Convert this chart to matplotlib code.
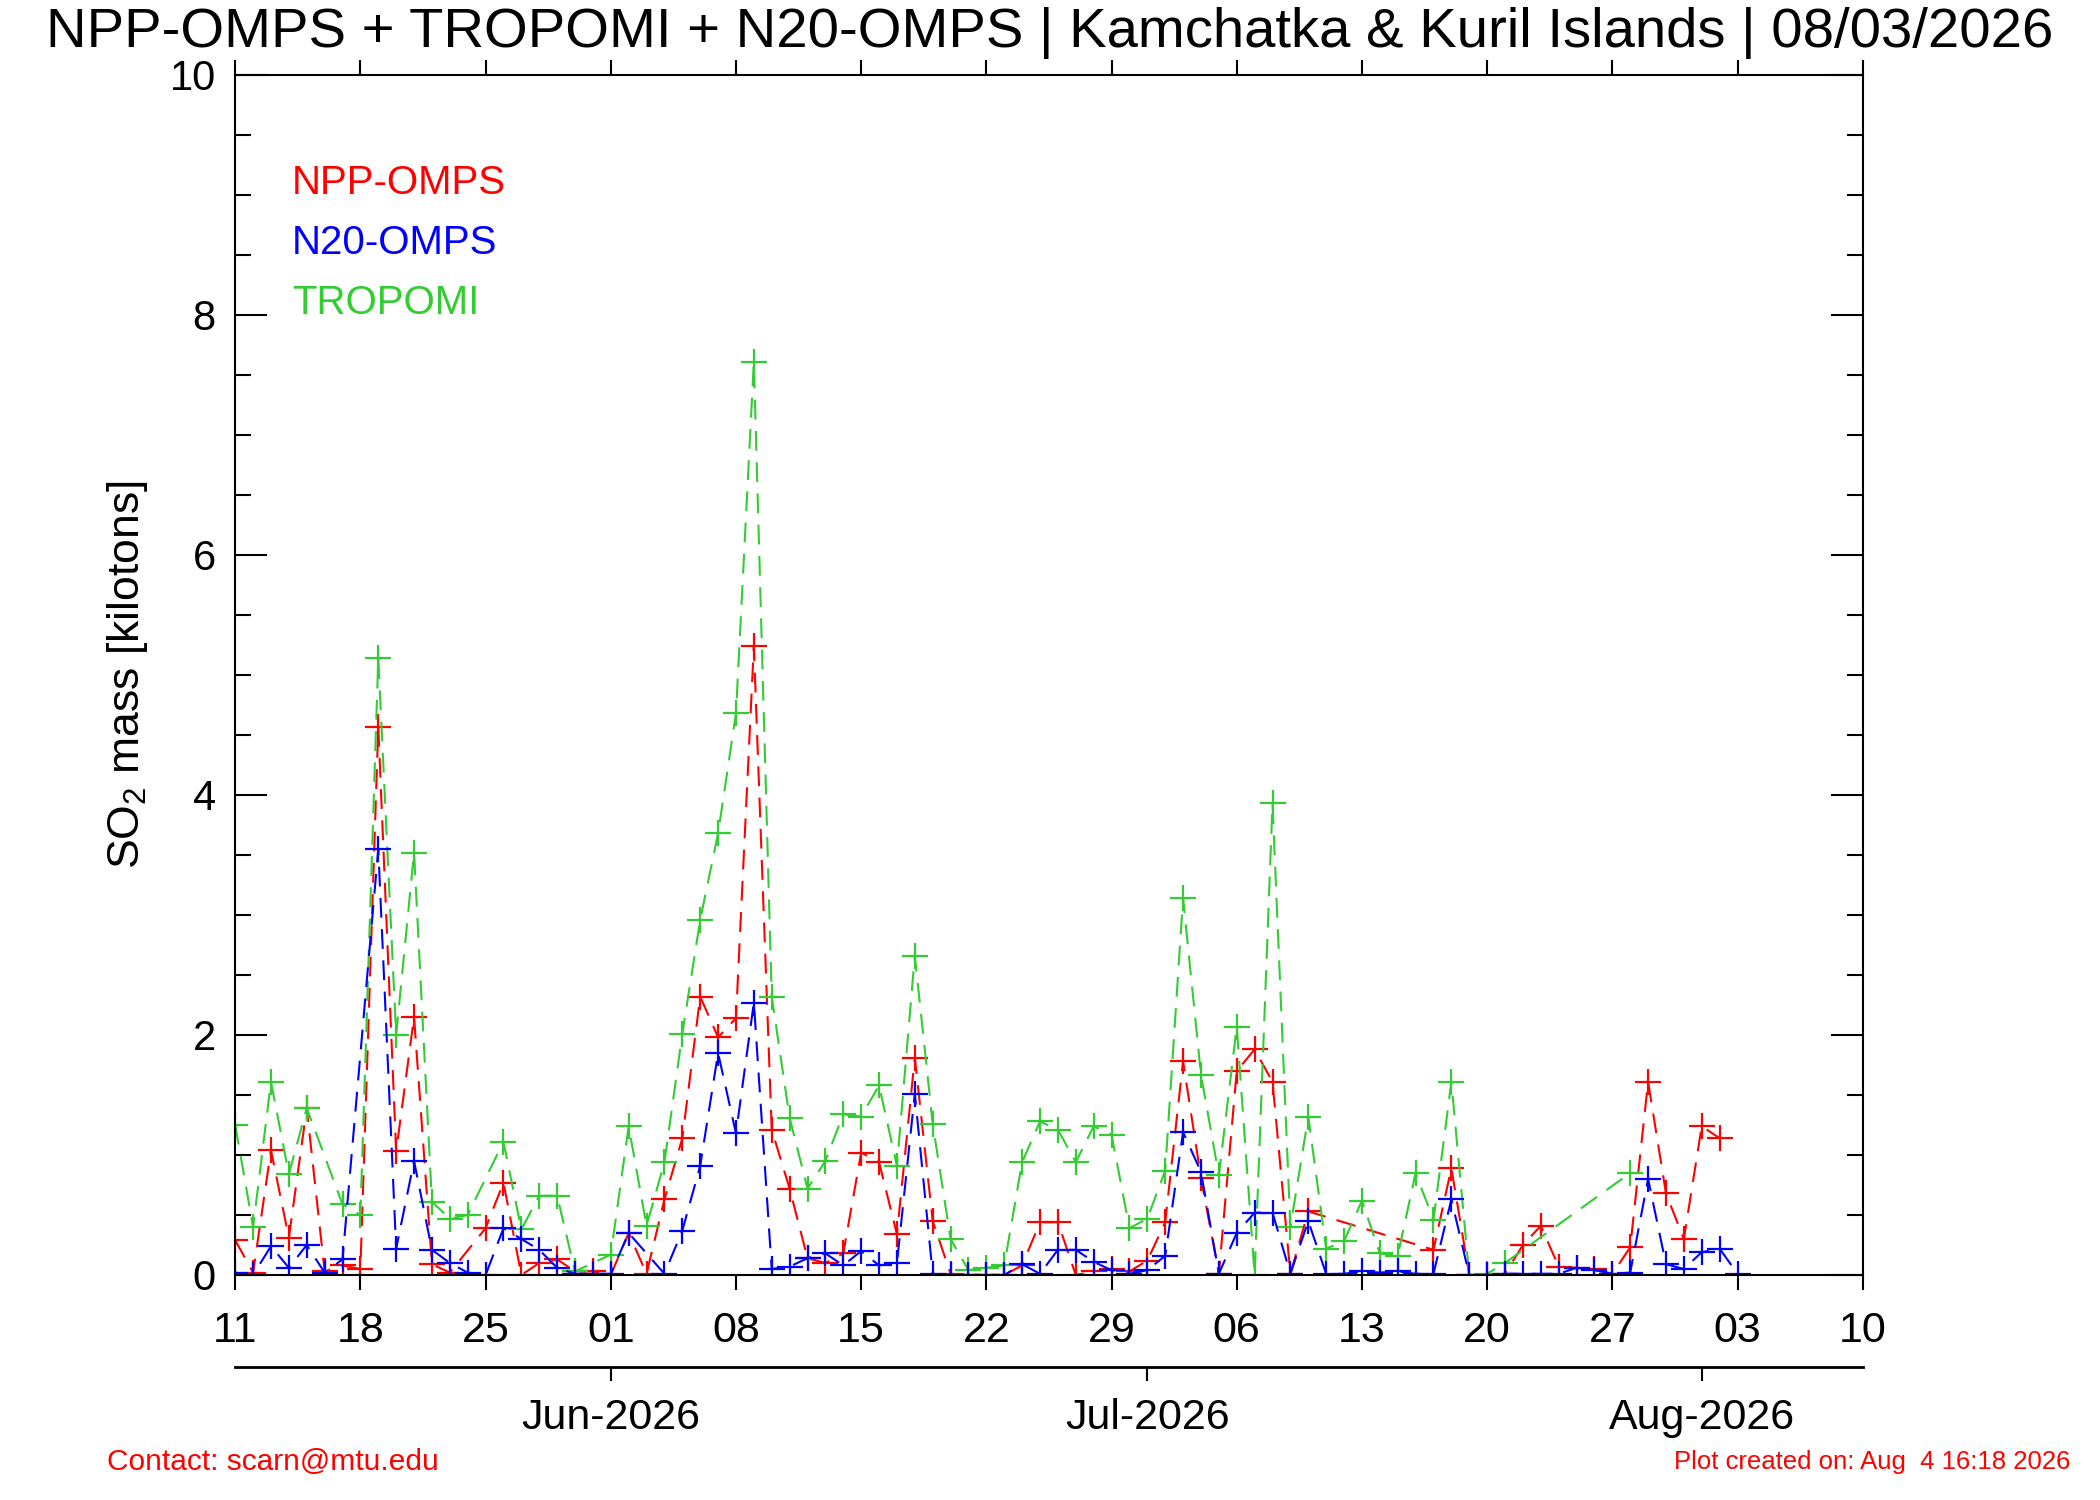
import numpy as np
import matplotlib
matplotlib.use("Agg")
import matplotlib.pyplot as plt
import matplotlib.dates as mdates
from matplotlib.ticker import MultipleLocator

plt.rcParams['font.family'] = ['Liberation Sans', 'DejaVu Sans']
plt.rcParams['mathtext.fontset'] = 'custom'
plt.rcParams['mathtext.rm'] = 'Liberation Sans'
plt.rcParams['mathtext.it'] = 'Liberation Sans:italic'

start = np.datetime64('2026-05-11')
end = np.datetime64('2026-08-10')

# day offsets from start and SO2 mass (kilotons)
npp_day = [0, 1, 2, 3, 4, 5, 6, 7, 8, 9, 10, 11, 12, 14, 15, 16, 17, 18, 19, 20,
           21, 22, 23, 24, 25, 26, 27, 28, 29, 30, 31, 32, 33, 34, 35, 36, 37, 38, 39, 40,
           41, 42, 43, 44, 45, 46, 47, 48, 49, 50, 51, 52, 53, 54, 55, 56, 57, 58, 59, 60,
           67, 68, 69, 70, 71, 72, 73, 74, 75, 76, 77, 78, 79, 80, 81, 82, 83]
npp_so2 = [0.29, 0.02, 1.04, 0.31, 1.39, 0.03, 0.08, 0.05, 4.57, 1.03, 2.15, 0.09, 0.02, 0.39, 0.77, 0.0, 0.10, 0.13, 0.03, 0.03,
           0.0, 0.35, 0.01, 0.63, 1.14, 2.32, 1.98, 2.14, 5.24, 1.21, 0.72, 0.14, 0.10, 0.18, 1.02, 0.94, 0.34, 1.81, 0.45, 0.01,
           0.0, 0.0, 0.0, 0.08, 0.44, 0.44, 0.0, 0.03, 0.05, 0.03, 0.12, 0.44, 1.78, 0.81, 0.01, 1.70, 1.88, 1.61, 0.01, 0.53,
           0.21, 0.89, 0.0, 0.0, 0.01, 0.25, 0.41, 0.07, 0.06, 0.05, 0.01, 0.23, 1.61, 0.68, 0.30, 1.24, 1.14]

n20_day = [0, 1, 2, 3, 4, 5, 6, 8, 9, 10, 11, 12, 13, 14, 15, 16, 17, 18, 19, 20,
           21, 22, 24, 25, 26, 27, 28, 29, 30, 31, 32, 33, 34, 35, 36, 37, 38, 39, 40, 41,
           42, 43, 44, 45, 46, 47, 48, 49, 50, 51, 52, 53, 54, 55, 56, 57, 58, 59, 60, 61,
           62, 63, 64, 65, 66, 67, 68, 69, 70, 71, 72, 73, 74, 75, 76, 77, 78, 79, 80, 81,
           82, 83, 84]
n20_so2 = [0.02, 0.0, 0.24, 0.06, 0.25, 0.02, 0.13, 3.55, 0.22, 0.95, 0.21, 0.10, 0.02, 0.0, 0.39, 0.30, 0.21, 0.06, 0.01, 0.01,
           0.01, 0.35, 0.01, 0.37, 0.91, 1.85, 1.18, 2.27, 0.05, 0.07, 0.14, 0.18, 0.08, 0.20, 0.08, 0.10, 1.51, 0.01, 0.0, 0.0,
           0.0, 0.0, 0.09, 0.01, 0.21, 0.21, 0.11, 0.04, 0.01, 0.04, 0.16, 1.19, 0.86, 0.01, 0.35, 0.52, 0.52, 0.01, 0.45, 0.01,
           0.01, 0.03, 0.02, 0.03, 0.01, 0.01, 0.63, 0.0, 0.0, 0.01, 0.01, 0.01, 0.01, 0.06, 0.04, 0.01, 0.02, 0.80, 0.09, 0.05,
           0.19, 0.22, 0.01]

tro_day = [0, 1, 2, 3, 4, 6, 7, 8, 9, 10, 11, 12, 13, 15, 16, 17, 18, 19, 21, 22,
           23, 24, 25, 26, 27, 28, 29, 30, 31, 32, 33, 34, 35, 36, 37, 38, 39, 40, 41, 42,
           43, 44, 45, 46, 47, 48, 49, 50, 51, 52, 53, 54, 55, 56, 57, 58, 59, 60, 61, 62,
           63, 64, 65, 66, 67, 68, 69, 70, 71, 78]
tro_so2 = [1.25, 0.40, 1.61, 0.84, 1.39, 0.59, 0.50, 5.14, 2.00, 3.52, 0.61, 0.47, 0.50, 1.11, 0.38, 0.66, 0.66, 0.03, 0.17, 1.24,
           0.41, 0.94, 2.01, 2.96, 3.68, 4.68, 7.61, 2.32, 1.31, 0.72, 0.95, 1.34, 1.32, 1.58, 0.91, 2.66, 1.26, 0.30, 0.04, 0.06,
           0.08, 0.94, 1.28, 1.21, 0.94, 1.24, 1.17, 0.39, 0.47, 0.87, 3.14, 1.67, 0.83, 2.07, 0.0, 3.93, 0.40, 1.32, 0.22, 0.28,
           0.62, 0.18, 0.16, 0.85, 0.46, 1.61, 0.0, 0.01, 0.10, 0.85]

series = [
    ('NPP-OMPS', npp_day, npp_so2, '#ff0000'),
    ('TROPOMI', tro_day, tro_so2, '#33cc33'),
    ('N20-OMPS', n20_day, n20_so2, '#0000ff'),
]
legend_order = ['NPP-OMPS', 'N20-OMPS', 'TROPOMI']
colors = {name: c for name, _, _, c in series}

fig = plt.figure(figsize=(21, 15), dpi=100)
ax = fig.add_axes([0.112, 0.150, 0.775, 0.800])

for name, days, vals, col in series:
    t = start + np.array(days).astype('timedelta64[D]')
    ax.plot(t.astype(object), vals, color=col, lw=1.5,
            ls=(0, (9.5, 5.5)), marker='+', ms=19, mew=1.6)

ax.set_xlim(start.astype(object), end.astype(object))
ax.set_ylim(0, 10)

week_ticks = np.arange(start, end + 1, 7).astype(object)
ax.set_xticks(week_ticks)
ax.xaxis.set_major_formatter(mdates.DateFormatter('%d'))
ax.tick_params(axis='x', which='major', direction='out', length=11, width=1.5,
               top=True, labeltop=False, bottom=True, labelsize=31, pad=15)

ax.yaxis.set_major_locator(MultipleLocator(2))
ax.yaxis.set_minor_locator(MultipleLocator(0.5))
ax.tick_params(axis='y', which='major', direction='in', length=23, width=1.5,
               left=True, right=True, labelsize=30, pad=14)
ax.tick_params(axis='y', which='minor', direction='in', length=11.5, width=1.5,
               left=True, right=True)
for sp in ax.spines.values():
    sp.set_linewidth(1.5)

ax.set_ylabel('SO$_2$ mass [kilotons]', fontsize=32, labelpad=14)

for i, name in enumerate(legend_order):
    ax.text(0.035, 0.910 - 0.05 * i, name, color=colors[name], fontsize=29,
            transform=ax.transAxes, va='center', ha='left')

# month axis below the main plot
ax2 = fig.add_axes([0.112, 0.0885, 0.775, 0.0001])
ax2.set_xlim(start.astype(object), end.astype(object))
for s in ['top', 'left', 'right']:
    ax2.spines[s].set_visible(False)
ax2.spines['bottom'].set_linewidth(2)
ax2.set_yticks([])
ax2.xaxis.set_major_locator(mdates.MonthLocator())
ax2.xaxis.set_major_formatter(mdates.DateFormatter('%b-%Y'))
ax2.tick_params(axis='x', direction='out', length=10, width=1.5, labelsize=31, pad=12)

fig.text(0.500, 0.978, 'NPP-OMPS + TROPOMI + N20-OMPS | Kamchatka & Kuril Islands | 08/03/2026',
         ha='center', va='center', fontsize=40.5)
fig.text(0.051, 0.025, 'Contact: scarn@mtu.edu', color='#ff0000', fontsize=21.5,
         ha='left', va='center')
fig.text(0.986, 0.025, 'Plot created on: Aug  4 16:18 2026', color='#ff0000', fontsize=18.5,
         ha='right', va='center')

fig.savefig('out.png', dpi=100)
